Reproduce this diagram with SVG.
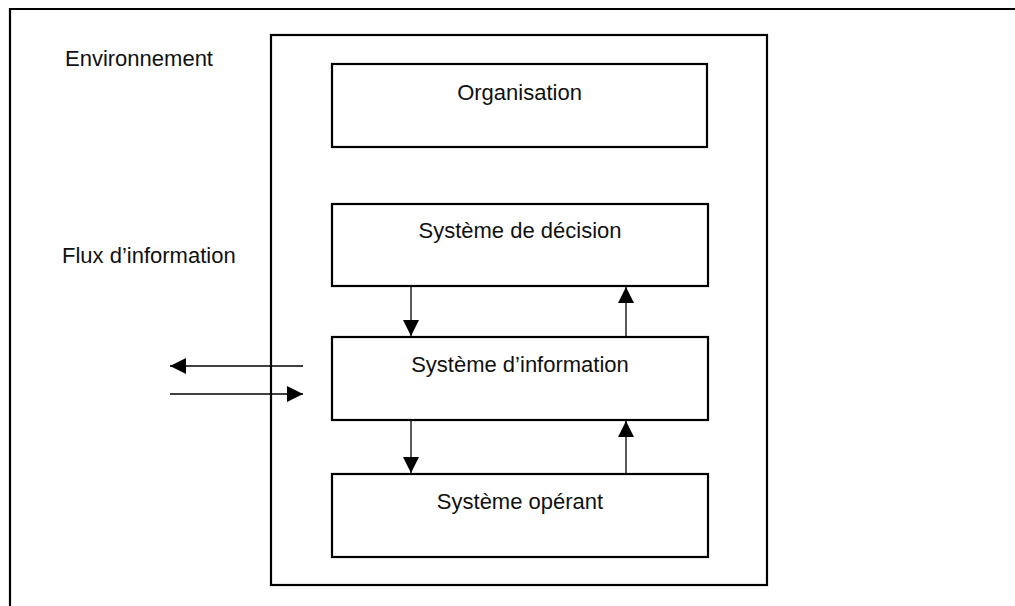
<svg xmlns="http://www.w3.org/2000/svg" width="1015" height="606" viewBox="0 0 1015 606">
  <style>
    .box { fill: #ffffff; stroke: #000000; stroke-width: 2.2; }
    .lbl { font-family: "Liberation Sans", Arial, sans-serif; font-size: 22px; fill: #111111; }
    .mid { text-anchor: middle; }
    .flow { stroke: #000000; stroke-width: 1.3; fill: none; }
  </style>
  <defs>
    <marker id="head" viewBox="0 0 16 16" refX="16" refY="8" markerWidth="16" markerHeight="16" markerUnits="userSpaceOnUse" orient="auto">
      <path d="M0,0 L16,8 L0,16 Z" fill="#000000"/>
    </marker>
  </defs>

  <rect width="1015" height="606" fill="#ffffff"/>

  <!-- environment frame, open on the right and bottom -->
  <g id="environnement">
    <path d="M10,606 V9 H1015" fill="none" stroke="#000000" stroke-width="2.2"/>
    <text class="lbl" x="65" y="66">Environnement</text>
    <text class="lbl" x="62" y="263">Flux d’information</text>
  </g>

  <!-- enterprise boundary -->
  <g id="entreprise">
    <rect class="box" x="271" y="35" width="496" height="550"/>
  </g>

  <g id="organisation">
    <rect class="box" x="332" y="64" width="375" height="83"/>
    <text class="lbl mid" x="519.5" y="100">Organisation</text>
  </g>

  <g id="systeme-decision">
    <rect class="box" x="332" y="204" width="376" height="82"/>
    <text class="lbl mid" x="520" y="238">Système de décision</text>
  </g>

  <g id="systeme-information">
    <rect class="box" x="332" y="337" width="376" height="83"/>
    <text class="lbl mid" x="520" y="372">Système d’information</text>
  </g>

  <g id="systeme-operant">
    <rect class="box" x="332" y="474" width="376" height="83"/>
    <text class="lbl mid" x="520" y="509">Système opérant</text>
  </g>

  <g id="connecteurs">
    <line class="flow" x1="411" y1="287" x2="411" y2="336" marker-end="url(#head)"/>
    <line class="flow" x1="626" y1="336" x2="626" y2="287" marker-end="url(#head)"/>
    <line class="flow" x1="411" y1="421" x2="411" y2="473" marker-end="url(#head)"/>
    <line class="flow" x1="626" y1="473" x2="626" y2="421" marker-end="url(#head)"/>
    <line class="flow" x1="303" y1="366" x2="170" y2="366" marker-end="url(#head)"/>
    <line class="flow" x1="170" y1="394" x2="303" y2="394" marker-end="url(#head)"/>
  </g>
</svg>
